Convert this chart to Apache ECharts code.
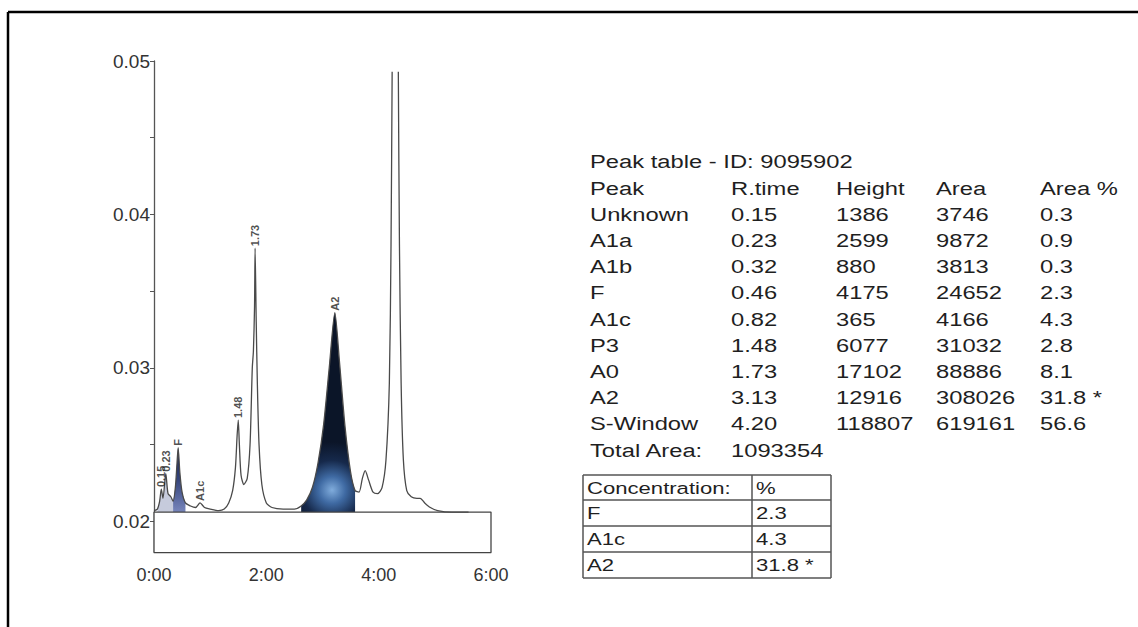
<!DOCTYPE html>
<html>
<head>
<meta charset="utf-8">
<script src="https://cdn.jsdelivr.net/npm/echarts@6/dist/echarts.min.js"></script>
<style>
html,body{margin:0;padding:0;background:#fff;}
#c{width:1138px;height:627px;}
</style>
</head>
<body>
<div id="c"></div>
<script>
// ---- chromatogram trace (time in min, absorbance) ----
const traceTimes = [0.00,0.06,0.10,0.13,0.16,0.21,0.25,0.30,0.34,0.38,0.41,0.43,0.46,0.50,0.56,0.65,0.74,0.82,0.90,1.00,1.15,1.25,1.33,1.40,1.45,1.48,1.50,1.52,1.55,1.60,1.66,1.71,1.75,1.77,1.79,1.80,1.82,1.84,1.87,1.92,2.00,2.10,2.30,2.50,2.62,2.72,2.82,2.92,3.02,3.12,3.22,3.30,3.40,3.50,3.58,3.65,3.71,3.76,3.82,3.90,3.98,4.06,4.13,4.19,4.22,4.24,4.30,4.35,4.37,4.40,4.44,4.50,4.58,4.68,4.74,4.82,4.92,5.05,5.30,5.60];
const traceValues = [0.0207,0.0208,0.0213,0.0221,0.0215,0.0231,0.0218,0.0216,0.0213,0.0222,0.0238,0.0248,0.0232,0.0219,0.0212,0.0210,0.0209,0.0212,0.0209,0.0208,0.0207,0.0208,0.0212,0.0220,0.0235,0.0256,0.0266,0.0250,0.0230,0.0224,0.0228,0.0250,0.0300,0.0311,0.0340,0.0378,0.0330,0.0290,0.0250,0.0224,0.0212,0.0209,0.0208,0.0208,0.0210,0.0214,0.0222,0.0238,0.0263,0.0300,0.0336,0.0305,0.0262,0.0232,0.0220,0.0219,0.0228,0.0233,0.0227,0.0219,0.0218,0.0222,0.0240,0.0290,0.0380,0.0493,null,0.0493,0.0380,0.0290,0.0240,0.0220,0.0216,0.0215,0.0215,0.0212,0.0209,0.0207,0.0206,0.0206];

// filled peak windows (min)
const fillSmall = [0.06, 0.34];
const fillF = [0.34, 0.56];
const fillA2 = [2.62, 3.58];

// peak annotations printed above the trace
const peakLabelText = ['0.15','0.23','F','A1c','1.48','1.73','A2'];
const peakLabelTime = [0.13,0.21,0.43,0.82,1.50,1.80,3.22];
const peakLabelValue = [0.0221,0.0231,0.0248,0.0212,0.0266,0.0378,0.0336];

// axes
const xTickValues = [0,2,4,6];
const xTickLabels = ['0:00','2:00','4:00','6:00'];
const yTickValues = [0.02,0.025,0.03,0.035,0.04,0.045,0.05];
const yLabelValues = [0.02,0.03,0.04,0.05];
const baselineValue = 0.0206;
const boxTimes = [0, 0, 6, 6];

// peak table
const tableTitle = 'Peak table - ID: 9095902';
const tableHeader = ['Peak','R.time','Height','Area','Area %'];
const peakNames = ['Unknown','A1a','A1b','F','A1c','P3','A0','A2','S-Window'];
const peakRTimes = ['0.15','0.23','0.32','0.46','0.82','1.48','1.73','3.13','4.20'];
const peakHeights = ['1386','2599','880','4175','365','6077','17102','12916','118807'];
const peakAreas = ['3746','9872','3813','24652','4166','31032','88886','308026','619161'];
const peakAreaPct = ['0.3','0.9','0.3','2.3','4.3','2.8','8.1','31.8 *','56.6'];
const totalAreaLabel = 'Total Area:';
const totalArea = '1093354';

// concentration table
const concHeader = ['Concentration:','%'];
const concNames = ['F','A1c','A2'];
const concValues = ['2.3','4.3','31.8 *'];

// ---- build ----
const trace = traceTimes.map((t,i)=>[t, traceValues[i]]);
const slice = (r)=>trace.filter(p=>p[0]>=r[0]-1e-9 && p[0]<=r[1]+1e-9 && p[1]!==null);
const Y_MIN = 0.018, Y_MAX = 0.05;
const boxData = [[boxTimes[0], Y_MIN],[boxTimes[1], baselineValue],[boxTimes[2], baselineValue],[boxTimes[3], Y_MIN]];

const FONT = '"Liberation Sans", Arial, sans-serif';
const SX = 1.32;
const txtColor = '#1f1f1f';
const graphics = [];
// frame
graphics.push({type:'line', shape:{x1:8,y1:12,x2:1138,y2:12}, style:{stroke:'#000',lineWidth:2.5}, z:100});
graphics.push({type:'line', shape:{x1:8,y1:12,x2:8,y2:627}, style:{stroke:'#000',lineWidth:2.5}, z:100});

function addText(str, x, y, size, sx){
  graphics.push({type:'text', x:x, y:y, scaleX: sx||SX, z:100,
    style:{text:str, fill:txtColor, font: size+'px '+FONT, verticalAlign:'middle', align:'left'}});
}
const colX = [590, 731, 836, 936, 1040];
const rowY0 = 162, rowStep = 26.2;
addText(tableTitle, colX[0], rowY0, 18);
tableHeader.forEach((h,i)=>addText(h, colX[i], rowY0+rowStep, 18));
peakNames.forEach((n,r)=>{
  const y = rowY0 + rowStep*(r+2);
  [n, peakRTimes[r], peakHeights[r], peakAreas[r], peakAreaPct[r]].forEach((v,i)=>addText(v, colX[i], y, 18));
});
addText(totalAreaLabel, colX[0], rowY0+rowStep*11, 18);
addText(totalArea, colX[1], rowY0+rowStep*11, 18);

// concentration table
const cL = 583, cM = 752, cR = 831;
const cRows = [475, 500, 526, 552, 578];
cRows.forEach(y=>graphics.push({type:'line', shape:{x1:cL,y1:y,x2:cR,y2:y}, style:{stroke:'#555',lineWidth:1.5}, z:100}));
[cL, cM, cR].forEach(x=>graphics.push({type:'line', shape:{x1:x,y1:cRows[0],x2:x,y2:cRows[4]}, style:{stroke:'#555',lineWidth:1.5}, z:100}));
addText(concHeader[0], cL+4, (cRows[0]+cRows[1])/2, 17, 1.3);
addText(concHeader[1], cM+4, (cRows[0]+cRows[1])/2, 17, 1.3);
concNames.forEach((n,i)=>{
  const y = (cRows[i+1]+cRows[i+2])/2;
  addText(n, cL+4, y, 17, 1.3);
  addText(concValues[i], cM+4, y, 17, 1.3);
});

const chart = echarts.init(document.getElementById('c'), null, {renderer:'svg'});
chart.setOption({
  backgroundColor:'#fff',
  animation:false,
  grid:{left:154, right:647, top:61, bottom:75},
  xAxis:{type:'value', min:0, max:6, interval:2,
    axisLine:{show:true, lineStyle:{color:'#444', width:1.3}},
    axisTick:{show:false},
    splitLine:{show:false},
    axisLabel:{color:'#333', fontSize:18, fontFamily:FONT, margin:14,
      formatter:(v)=>{const k=xTickValues.indexOf(v); return k>=0?xTickLabels[k]:'';}}},
  yAxis:{type:'value', min:Y_MIN, max:Y_MAX,
    axisLine:{show:true, lineStyle:{color:'#555', width:1.3}},
    axisTick:{show:true, customValues:yTickValues, length:4, lineStyle:{color:'#555'}},
    splitLine:{show:false},
    axisLabel:{customValues:yLabelValues, color:'#333', fontSize:19, fontFamily:FONT, margin:4,
      formatter:(v)=>v.toFixed(2)}},
  graphic: graphics,
  series:[
    {type:'line', z:1, data:slice(fillSmall), smooth:0.25, symbol:'none', lineStyle:{width:0},
      areaStyle:{origin:'start', color:'#c6cbdc', opacity:1}},
    {type:'line', z:1, data:slice(fillF), smooth:0.25, symbol:'none', lineStyle:{width:0},
      areaStyle:{origin:'start', opacity:1, color:new echarts.graphic.LinearGradient(0,0,0,1,[
        {offset:0,color:'#16204a'},{offset:0.3,color:'#34437a'},{offset:0.6,color:'#7482b8'},{offset:1,color:'#7482b8'}])}},
    {type:'line', z:1, data:slice(fillA2), smooth:0.25, symbol:'none', lineStyle:{width:0},
      areaStyle:{origin:'start', opacity:1, color:new echarts.graphic.RadialGradient(332,490,48,[
        {offset:0,color:'#80acdc'},{offset:0.28,color:'#3f6aa3'},{offset:0.62,color:'#16294b'},{offset:1,color:'#0b1528'}], true)}},
    {type:'line', z:3, data:boxData, symbol:'none', lineStyle:{color:'#444', width:1.3},
      areaStyle:{origin:'start', color:'#fff', opacity:1}},
    {type:'line', z:4, data:trace, smooth:0.25, symbol:'none', connectNulls:false,
      lineStyle:{color:'#4a4a4a', width:1.3}},
    {type:'scatter', z:5, symbolSize:0,
      data:peakLabelTime.map((t,i)=>({value:[t, peakLabelValue[i]], name:peakLabelText[i]})),
      label:{show:true, formatter:(p)=>p.name, position:'top', distance:2, rotate:90,
        align:'left', verticalAlign:'middle', fontSize:11, fontWeight:'bold', color:'#222', fontFamily:FONT}}
  ]
});
</script>
</body>
</html>
